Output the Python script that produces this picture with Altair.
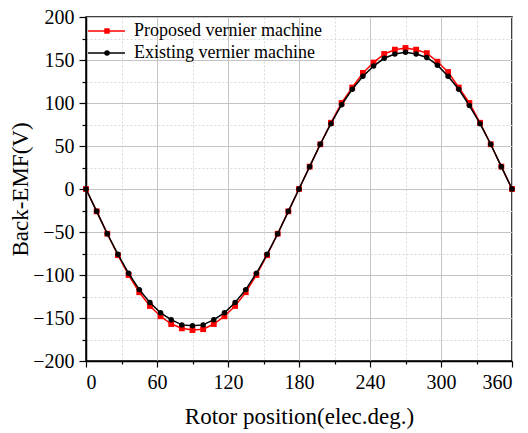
import altair as alt
import pandas as pd

angle = [0, 9, 18, 27, 36, 45, 54, 63, 72, 81, 90, 99, 108, 117, 126, 135, 144, 153, 162, 171,
         180, 189, 198, 207, 216, 225, 234, 243, 252, 261, 270, 279, 288, 297, 306, 315, 324, 333, 342, 351, 360]
proposed = [0, -26, -52, -77, -100, -120, -136, -148, -157, -162, -164, -163, -157, -148, -136, -120, -100, -77, -52, -26,
            0, 26, 52, 77, 100, 118, 135, 147, 157, 162, 164, 162, 158, 148, 136, 118, 100, 77, 52, 26, 0]
existing = [0, -26, -52, -76, -98, -117, -132, -144, -152, -158, -159, -158, -152, -144, -132, -117, -98, -76, -52, -26,
            0, 26, 52, 76, 98, 116, 131, 143, 152, 157, 159, 157, 153, 144, 131, 116, 97, 76, 52, 26, 0]
series_names = ["Proposed vernier machine", "Existing vernier machine"]
series_colors = ["#ff0000", "#000000"]
x_ticks = list(range(0, 361, 30))
y_ticks = list(range(-200, 201, 25))

FONT = "Liberation Serif"
W, H = 426, 344

df_p = pd.DataFrame({"angle": angle, "emf": proposed})
df_e = pd.DataFrame({"angle": angle, "emf": existing})

x_enc = alt.X("angle:Q", scale=alt.Scale(domain=[0, 360], nice=False),
              axis=alt.Axis(values=x_ticks, title="Rotor position(elec.deg.)",
                            labelExpr="datum.value % 60 === 0 ? datum.label : ''",
                            tickSize={"condition": {"test": "datum.value % 60 === 0", "value": 6}, "value": 3},
                            gridDash={"condition": {"test": "datum.value % 60 === 0", "value": []}, "value": [2, 2]},
                            gridColor={"condition": {"test": "datum.value % 60 === 0", "value": "#c4c4c4"}, "value": "#dadada"},
                            labelPadding=5, titlePadding=13))
y_enc = alt.Y("emf:Q", scale=alt.Scale(domain=[-200, 200], nice=False),
              axis=alt.Axis(values=y_ticks, title="Back-EMF(V)",
                            labelExpr="datum.value % 50 === 0 ? datum.label : ''",
                            tickSize={"condition": {"test": "datum.value % 50 === 0", "value": 7}, "value": 4},
                            gridDash={"condition": {"test": "datum.value % 50 === 0", "value": []}, "value": [2, 2]},
                            gridColor={"condition": {"test": "datum.value % 50 === 0", "value": "#c4c4c4"}, "value": "#dadada"},
                            labelPadding=5, titleX=-66, titleBaseline="middle"))

base_p = alt.Chart(df_p).encode(x=x_enc, y=y_enc)
base_e = alt.Chart(df_e).encode(x=x_enc, y=y_enc)

line_p = base_p.mark_line(color=series_colors[0], strokeWidth=1.5)
pts_p = base_p.mark_point(shape="square", filled=True, size=34, color=series_colors[0], opacity=1)
line_e = base_e.mark_line(color=series_colors[1], strokeWidth=1.5)
pts_e = base_e.mark_point(shape="circle", filled=True, size=30, color=series_colors[1], opacity=1)

leg_df = pd.DataFrame({"name": series_names})
legend_layers = []
shapes = ["square", "circle"]
for i, (nm, col, shp) in enumerate(zip(series_names, series_colors, shapes)):
    ly = 14 + i * 22
    d = leg_df.iloc[[i]]
    legend_layers.append(alt.Chart(d).mark_rule(color=col, strokeWidth=1.5).encode(
        x=alt.value(2), x2=alt.value(39), y=alt.value(ly)))
    legend_layers.append(alt.Chart(d).mark_point(shape=shp, filled=True, size=30, color=col, opacity=1).encode(
        x=alt.value(21), y=alt.value(ly)))
    legend_layers.append(alt.Chart(d).mark_text(align="left", baseline="middle", font=FONT, fontSize=18,
                                                color="black").encode(
        x=alt.value(48), y=alt.value(ly), text="name:N"))

chart = alt.layer(line_p, pts_p, line_e, pts_e, *legend_layers).properties(
    width=W, height=H,
    background="white",
    autosize=alt.AutoSizeParams(type="none"),
    padding={"left": 86, "top": 17, "right": 16, "bottom": 72},
).configure_view(stroke="black", strokeWidth=1.5).configure_axis(
    labelFont=FONT, labelFontSize=20, labelColor="black",
    titleFont=FONT, titleFontSize=23, titleFontWeight="normal", titleColor="black",
    domainColor="black", domainWidth=1.5, tickColor="black", tickWidth=1.2,
    grid=True, gridWidth=1,
)

chart.save("out.html", embed_options={"renderer": "svg", "actions": False})
